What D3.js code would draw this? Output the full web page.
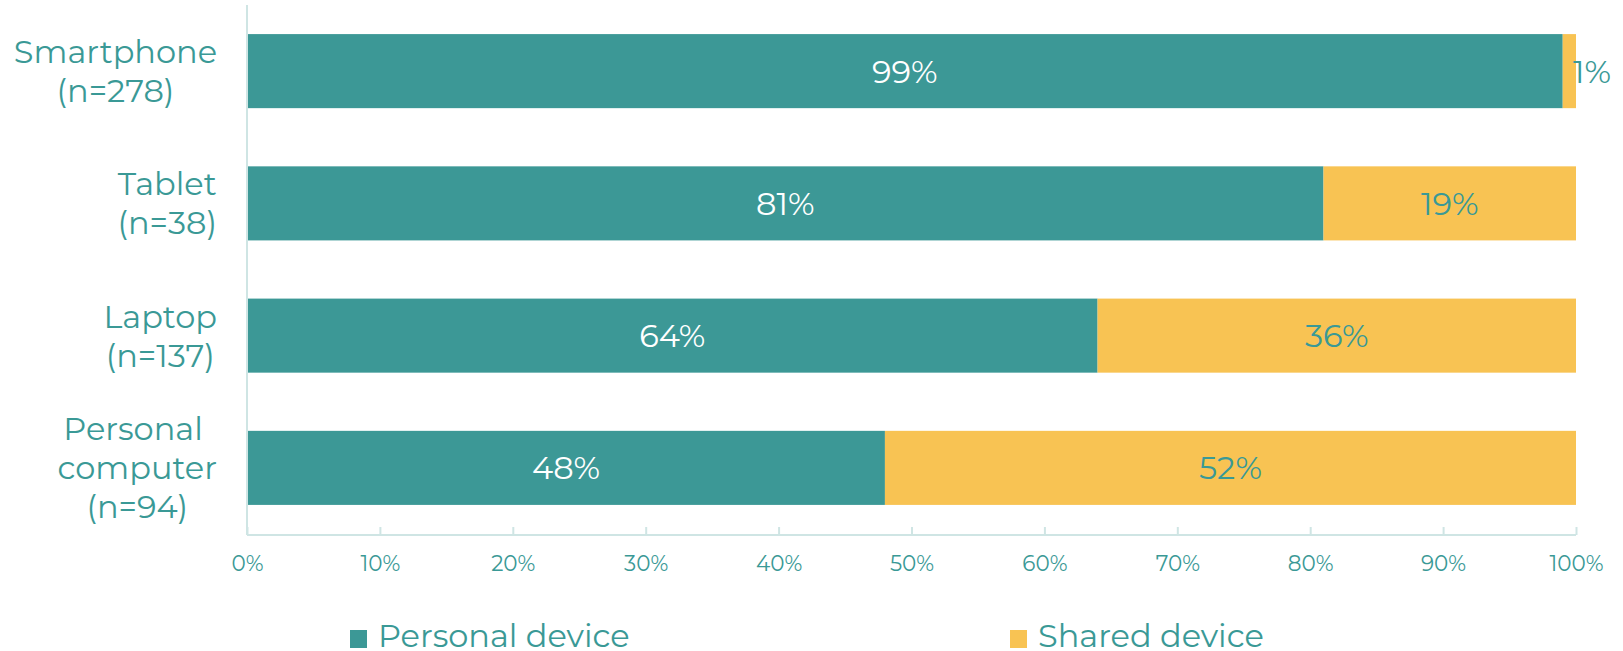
<!DOCTYPE html>
<html>
<head>
<meta charset="utf-8">
<script src="https://cdn.jsdelivr.net/npm/d3@7"></script>
<style>
  html, body { margin: 0; padding: 0; background: #fff; }
  svg { display: block; }
  text { font-family: "Montserrat", "Inter", "Open Sans", sans-serif; }
</style>
</head>
<body>
<svg id="chart" width="1623" height="651"></svg>
<script>
const categories = [
  ["Smartphone", "(n=278)"],
  ["Tablet", "(n=38)"],
  ["Laptop", "(n=137)"],
  ["Personal ", "computer", "(n=94)"]
];
const seriesNames = ["Personal device", "Shared device"];
const personal = [99, 81, 64, 48];
const shared = [1, 19, 36, 52];
const tickValues = [0, 10, 20, 30, 40, 50, 60, 70, 80, 90, 100];

const colors = ["#3c9896", "#f8c353"];
const textTeal = "#3a9996";
const axisColor = "#cfe5e4";

const svg = d3.select("#chart");
const keys = categories.map(c => c.join(" "));

const x = d3.scaleLinear().domain([0, 100]).range([247, 1576]);
const y = d3.scaleBand().domain(keys).range([5, 534]).paddingInner(0.44).paddingOuter(0.22);

const rows = keys.map((k, i) => ({ key: k, lines: categories[i], vals: [personal[i], shared[i]] }));

// bars
const g = svg.append("g");
rows.forEach(r => {
  let acc = 0;
  r.vals.forEach((v, j) => {
    g.append("rect")
      .attr("x", x(acc))
      .attr("y", y(r.key))
      .attr("width", x(acc + v) - x(acc))
      .attr("height", y.bandwidth())
      .attr("fill", colors[j]);
    const small = v < 5;
    g.append("text")
      .attr("x", small ? x(acc + v) - 3 : x(acc + v / 2))
      .attr("y", y(r.key) + y.bandwidth() / 2)
      .attr("dy", "0.36em")
      .attr("text-anchor", small ? "start" : "middle")
      .attr("font-size", 32)
      .attr("fill", j === 0 ? "#ffffff" : textTeal)
      .text(v + "%");
    acc += v;
  });
});

// y axis line
svg.append("line")
  .attr("x1", x(0)).attr("x2", x(0))
  .attr("y1", 5).attr("y2", 535)
  .attr("stroke", axisColor).attr("stroke-width", 2);

// x axis
const xAxis = d3.axisBottom(x)
  .tickValues(tickValues)
  .tickSize(-8)
  .tickPadding(0)
  .tickFormat(d => d + "%");
const ax = svg.append("g").attr("transform", "translate(0,535)").call(xAxis);
ax.select(".domain").attr("stroke", axisColor).attr("stroke-width", 2).attr("d", `M${x(0)},0H${x(100)}`);
ax.selectAll(".tick line").attr("stroke", axisColor).attr("stroke-width", 2);
ax.selectAll(".tick text")
  .attr("y", 28)
  .attr("dy", "0.36em")
  .attr("fill", textTeal)
  .attr("font-size", 21.5)
  .attr("font-family", "Montserrat, Inter, 'Open Sans', sans-serif");

// category labels (lines centered among themselves, block right-aligned)
const labelRight = 217;
const lineH = 39;
rows.forEach(r => {
  const grp = svg.append("g");
  const cy = y(r.key) + y.bandwidth() / 2;
  const n = r.lines.length;
  const texts = r.lines.map((ln, i) => grp.append("text")
    .attr("y", cy + (i - (n - 1) / 2) * lineH)
    .attr("dy", "0.36em")
    .attr("font-size", 32)
    .attr("fill", textTeal)
    .attr("text-anchor", "middle")
    .attr("xml:space", "preserve")
    .text(ln));
  const maxW = d3.max(texts, t => t.node().getComputedTextLength());
  texts.forEach(t => t.attr("x", labelRight - maxW / 2));
});

// legend
const legendX = [350, 1010];
seriesNames.forEach((s, i) => {
  svg.append("rect")
    .attr("x", legendX[i]).attr("y", 630)
    .attr("width", 17).attr("height", 18)
    .attr("fill", colors[i]);
  svg.append("text")
    .attr("x", legendX[i] + 28).attr("y", 647)
    .attr("font-size", 32)
    .attr("fill", textTeal)
    .text(s);
});
</script>
</body>
</html>
